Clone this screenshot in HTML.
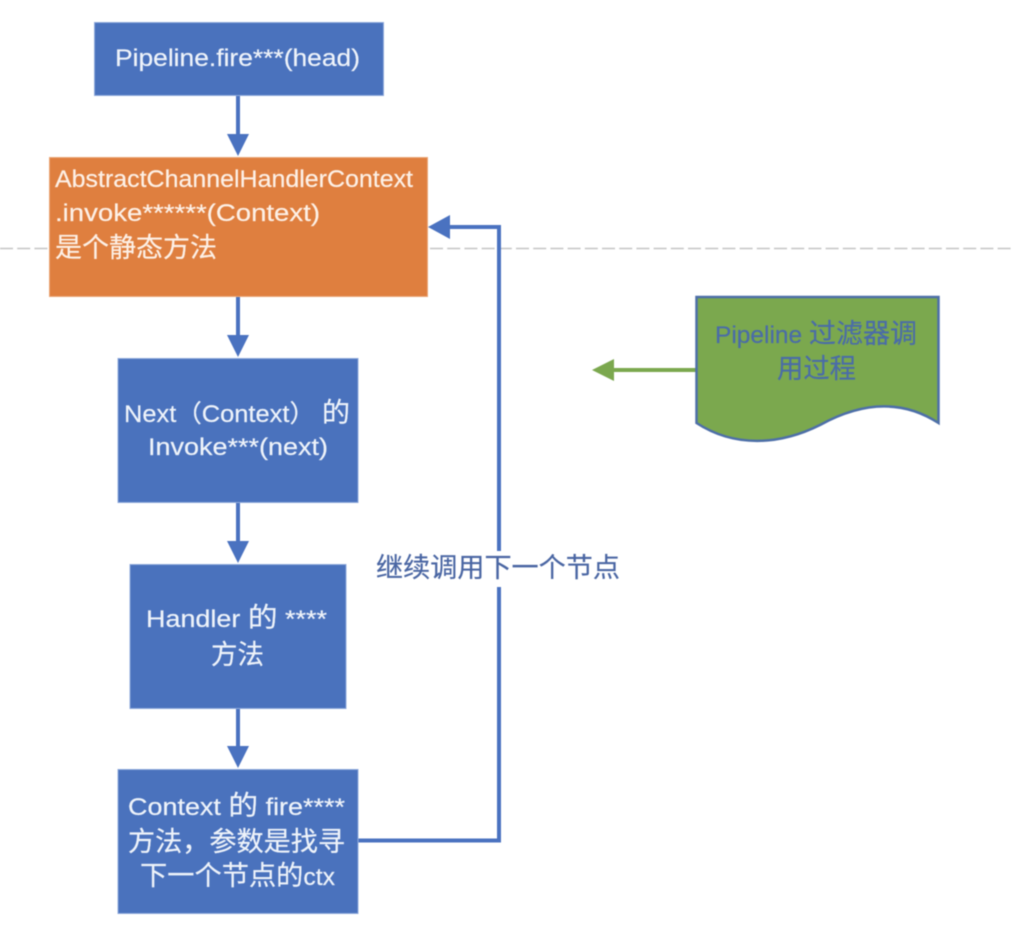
<!DOCTYPE html>
<html lang="zh">
<head>
<meta charset="utf-8">
<title>Pipeline 过滤器调用过程</title>
<style>
html,body{margin:0;padding:0;background:#fff;width:1026px;height:938px;overflow:hidden}
svg{display:block;filter:blur(.45px)}
text{font-family:"Liberation Sans","Noto Sans CJK SC",sans-serif;font-size:24.500px;fill:#eef3fa;stroke:#eef3fa;stroke-width:.2px}
tspan.c{font-size:27px}
text.o{fill:#fdf0e6;stroke:#fdf0e6}
text.d{fill:#4a6ca8;stroke:#4a6ca8}
text.l{fill:#4a66a3;stroke:#4a66a3}
</style>
</head>
<body>
<svg width="1026" height="938" viewBox="0 0 1026 938" xmlns="http://www.w3.org/2000/svg">
<line x1="0" y1="248.500" x2="1012" y2="248.500" stroke="#c4c4c4" stroke-width="1.500" stroke-dasharray="13 4.200"/>

<!-- connectors -->
<g stroke="#4a72c0" stroke-width="4" fill="none">
<line x1="238" y1="95" x2="238" y2="136"/>
<line x1="238" y1="296" x2="238" y2="337"/>
<line x1="238" y1="502" x2="238" y2="543"/>
<line x1="238" y1="708" x2="238" y2="749"/>
<path d="M358 840.500H499V227H449"/>
</g>
<g fill="#4a72c0">
<polygon points="227,134 249,134 238,156"/>
<polygon points="227,335 249,335 238,357"/>
<polygon points="227,541 249,541 238,563"/>
<polygon points="227,746 249,746 238,768"/>
<polygon points="428,227 450,215 450,239"/>
</g>

<!-- boxes -->
<g stroke="#8faadc" stroke-width="1">
<rect x="94.500" y="22.500" width="289" height="73" fill="#4a72bd"/>
<rect x="49.500" y="157.500" width="378" height="139" fill="#df7f3f" stroke="#eba777"/>
<rect x="118" y="358.500" width="240" height="144" fill="#4a72bd"/>
<rect x="130" y="564.500" width="216" height="144" fill="#4a72bd"/>
<rect x="118" y="769.500" width="240" height="144" fill="#4a72bd"/>
</g>

<text x="115" y="66" textLength="245" lengthAdjust="spacingAndGlyphs">Pipeline.fire***(head)</text>

<text class="o" x="55" y="187" textLength="358" lengthAdjust="spacingAndGlyphs">AbstractChannelHandlerContext</text>
<text class="o" x="55" y="221" textLength="265" lengthAdjust="spacingAndGlyphs">.invoke******(Context)</text>
<text class="o" x="55" y="257" textLength="162" lengthAdjust="spacingAndGlyphs"><tspan class="c">是个静态方法</tspan></text>

<text x="124" y="422" textLength="226" lengthAdjust="spacingAndGlyphs">Next（Context） <tspan class="c">的</tspan></text>
<text x="148" y="455" textLength="180" lengthAdjust="spacingAndGlyphs">Invoke***(next)</text>

<text x="146" y="627" textLength="181" lengthAdjust="spacingAndGlyphs">Handler <tspan class="c">的</tspan> ****</text>
<text x="211" y="664" textLength="53" lengthAdjust="spacingAndGlyphs"><tspan class="c">方法</tspan></text>

<text x="128" y="815" textLength="217" lengthAdjust="spacingAndGlyphs">Context <tspan class="c">的</tspan> fire****</text>
<text x="128" y="851" textLength="217" lengthAdjust="spacingAndGlyphs"><tspan class="c">方法，参数是找寻</tspan></text>
<text x="140" y="885" textLength="195" lengthAdjust="spacingAndGlyphs"><tspan class="c">下一个节点的</tspan>ctx</text>

<!-- connector label -->
<rect x="375" y="551" width="246" height="36" fill="#fff"/>
<text class="l" x="376" y="577" textLength="244" lengthAdjust="spacingAndGlyphs"><tspan class="c">继续调用下一个节点</tspan></text>

<!-- document shape -->
<line x1="696" y1="370" x2="612" y2="370" stroke="#7ba84e" stroke-width="4"/>
<polygon points="592,370 614,359 614,381" fill="#7ba84e"/>
<path d="M696.500 297H938.500V423C900 398 860 403 820 425C780 445 735 448 696.500 423Z" fill="#7ba84e" stroke="#4d6fa8" stroke-width="2.500"/>
<text class="d" x="715" y="343" textLength="202" lengthAdjust="spacingAndGlyphs">Pipeline <tspan class="c">过滤器调</tspan></text>
<text class="d" x="777" y="378" textLength="79" lengthAdjust="spacingAndGlyphs"><tspan class="c">用过程</tspan></text>
</svg>
</body>
</html>
